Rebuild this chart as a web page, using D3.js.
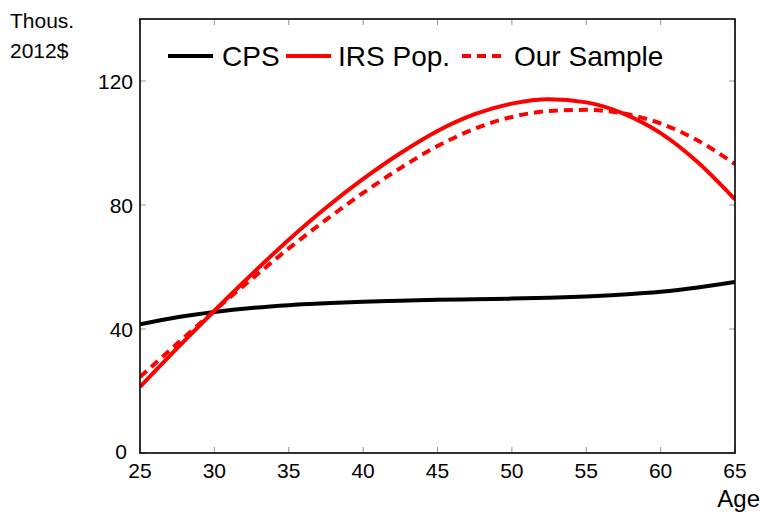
<!DOCTYPE html>
<html>
<head>
<meta charset="utf-8">
<script src="https://cdn.jsdelivr.net/npm/d3@7"></script>
<style>
  html, body { margin: 0; padding: 0; background: #fff; }
  svg text { font-family: "Liberation Sans", Arial, sans-serif; fill: #000; }
</style>
</head>
<body>
<svg id="chart" width="760" height="513"></svg>
<script>
const ages = [25, 27.5, 30, 32.5, 35, 37.5, 40, 42.5, 45, 47.5, 50, 52.5, 55, 57.5, 60, 62.5, 65];
const cps = [41.5, 43.8, 45.5, 46.8, 47.7, 48.3, 48.8, 49.1, 49.4, 49.6, 49.8, 50.1, 50.5, 51.1, 52.0, 53.4, 55.2];
const irsPop = [21.3, 33.8, 45.9, 57.6, 68.8, 79.1, 88.4, 96.7, 103.9, 109.3, 112.7, 114.1, 113.1, 109.5, 103.2, 93.8, 81.8];
const ourSample = [24.5, 35.3, 45.9, 56.1, 66.0, 75.2, 83.9, 91.9, 99.0, 104.6, 108.4, 110.3, 110.7, 109.5, 106.3, 100.8, 93.2];
const xTicks = [25, 30, 35, 40, 45, 50, 55, 60, 65];
const yTicks = [0, 40, 80, 120];
const seriesNames = ["CPS", "IRS Pop.", "Our Sample"];

const svg = d3.select("#chart");
const L = 140, R = 735, T = 19, B = 453;
const x = d3.scaleLinear().domain([25, 65]).range([L, R]);
const y = d3.scaleLinear().domain([0, 140]).range([B, T]);

// ticks (inside, gray) on all sides
const tickLen = 6;
const tg = svg.append("g").attr("stroke", "#999").attr("stroke-width", 1);
xTicks.forEach(v => {
  tg.append("line").attr("x1", x(v)).attr("x2", x(v)).attr("y1", B).attr("y2", B - tickLen);
  tg.append("line").attr("x1", x(v)).attr("x2", x(v)).attr("y1", T).attr("y2", T + tickLen);
});
yTicks.forEach(v => {
  tg.append("line").attr("y1", y(v)).attr("y2", y(v)).attr("x1", L).attr("x2", L + tickLen);
  tg.append("line").attr("y1", y(v)).attr("y2", y(v)).attr("x1", R).attr("x2", R - tickLen);
});

// tick labels
svg.append("g").selectAll("text").data(xTicks).join("text")
  .attr("x", d => x(d)).attr("y", B + 25)
  .attr("text-anchor", "middle").attr("font-size", 21).text(d => d);
svg.append("g").selectAll("text").data(yTicks).join("text")
  .attr("x", d => d === 0 ? L - 13 : L - 7).attr("y", d => y(d) + (d === 0 ? 6 : 8))
  .attr("text-anchor", "end").attr("font-size", 21).text(d => d);

// axis titles
svg.append("text").attr("x", 10).attr("y", 28).attr("font-size", 21).text("Thous.");
svg.append("text").attr("x", 10).attr("y", 58).attr("font-size", 21).text("2012$");
svg.append("text").attr("x", 760).attr("y", 507).attr("text-anchor", "end").attr("font-size", 24).text("Age");

// curves
svg.append("clipPath").attr("id", "clip").append("rect")
  .attr("x", L).attr("y", T).attr("width", R - L).attr("height", B - T);
const line = d3.line().x((d, i) => x(ages[i])).y(d => y(d)).curve(d3.curveMonotoneX);
const g = svg.append("g").attr("clip-path", "url(#clip)");
g.append("path").attr("d", line(cps)).attr("fill", "none").attr("stroke", "#000").attr("stroke-width", 4);
g.append("path").attr("d", line(ourSample)).attr("fill", "none").attr("stroke", "#ff0000").attr("stroke-width", 4).attr("stroke-dasharray", "9,6");
g.append("path").attr("d", line(irsPop)).attr("fill", "none").attr("stroke", "#ff0000").attr("stroke-width", 4);

// frame
svg.append("rect").attr("x", L).attr("y", T).attr("width", R - L).attr("height", B - T)
  .attr("fill", "none").attr("stroke", "#000").attr("stroke-width", 1.6);

// legend
const ly = 56;
const leg = svg.append("g");
const items = [
  {name: seriesNames[0], color: "#000", dash: null, x0: 168, tx: 222},
  {name: seriesNames[1], color: "#ff0000", dash: null, x0: 286, tx: 338},
  {name: seriesNames[2], color: "#ff0000", dash: "9,6", x0: 462, tx: 514}
];
items.forEach(it => {
  leg.append("line").attr("x1", it.x0).attr("x2", it.x0 + 45).attr("y1", ly).attr("y2", ly)
    .attr("stroke", it.color).attr("stroke-width", 4).attr("stroke-dasharray", it.dash);
  leg.append("text").attr("x", it.tx).attr("y", ly + 10).attr("font-size", 28).text(it.name);
});
</script>
</body>
</html>
